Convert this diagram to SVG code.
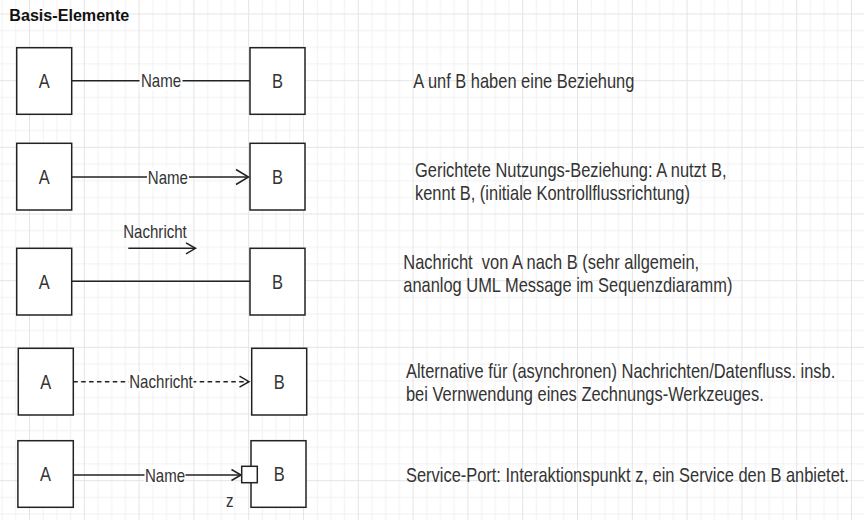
<svg xmlns="http://www.w3.org/2000/svg" width="864" height="520" viewBox="0 0 864 520">
  <defs>
    <pattern id="grid" patternUnits="userSpaceOnUse" x="29" y="13.5" width="54.8" height="66.67">
      <g stroke="#f1f1f1" stroke-width="1">
        <line x1="14.2" y1="0" x2="14.2" y2="66.67"/>
        <line x1="27.9" y1="0" x2="27.9" y2="66.67"/>
        <line x1="41.6" y1="0" x2="41.6" y2="66.67"/>
        <line x1="0" y1="17.17" x2="54.8" y2="17.17"/>
        <line x1="0" y1="33.83" x2="54.8" y2="33.83"/>
        <line x1="0" y1="50.5" x2="54.8" y2="50.5"/>
      </g>
      <g stroke="#e4e4e4" stroke-width="1">
        <line x1="0.5" y1="0" x2="0.5" y2="66.67"/>
        <line x1="0" y1="0.5" x2="54.8" y2="0.5"/>
      </g>
    </pattern>
    <marker id="arrBig" markerUnits="userSpaceOnUse" viewBox="-15 -9 17 18" markerWidth="17" markerHeight="18" refX="0" refY="0" orient="auto">
      <path d="M-12.5,-7.5 L0,0 L-12.5,7.5" fill="none" stroke="#222" stroke-width="1.5" stroke-dasharray="none"/>
    </marker>
    <marker id="arrSmall" markerUnits="userSpaceOnUse" viewBox="-12 -8 14 16" markerWidth="14" markerHeight="16" refX="0" refY="0" orient="auto">
      <path d="M-9.5,-5.5 L0,0 L-9.5,5.5" fill="none" stroke="#222" stroke-width="1.5" stroke-dasharray="none"/>
    </marker>
    <style>
      .box { fill: #ffffff; stroke: #222222; stroke-width: 1.5; }
      .port { fill: #ffffff; stroke: #222222; stroke-width: 1.5; }
      .edge { fill: none; stroke: #222222; stroke-width: 1.4; }
      .dash { stroke-dasharray: 4.5 3.4; }
      .lblbg { fill: #ffffff; }
      .t { font-family: "Liberation Sans", Arial, sans-serif; fill: #333333; }
      .node { font-size: 20px; text-anchor: middle; }
      .body { font-size: 20px; }
      .lbl { font-size: 18.3px; text-anchor: middle; }
      .title { font-family: "Liberation Sans", Arial, sans-serif; font-size: 16px; font-weight: bold; fill: #111111; }
    </style>
  </defs>

  <rect x="0" y="0" width="864" height="520" fill="#ffffff"/>
  <rect x="0" y="0" width="864" height="520" fill="url(#grid)"/>

  <text class="title" x="9.3" y="20.7" textLength="120" lengthAdjust="spacingAndGlyphs">Basis-Elemente</text>

  <!-- connectors -->
  <g id="connectors">
    <line class="edge" x1="71.7" y1="80.7" x2="250" y2="80.7"/>
    <line class="edge" x1="71.7" y1="177" x2="248.5" y2="177" marker-end="url(#arrBig)"/>
    <line class="edge" x1="128.3" y1="248.3" x2="195.5" y2="248.3" marker-end="url(#arrSmall)"/>
    <line class="edge" x1="71.7" y1="281.3" x2="250" y2="281.3"/>
    <line class="edge dash" x1="73.3" y1="381.7" x2="249" y2="381.7" marker-end="url(#arrSmall)"/>
    <line class="edge" x1="73.3" y1="475" x2="241" y2="475" marker-end="url(#arrSmall)"/>
    <!-- label backgrounds -->
    <rect class="lblbg" x="139.5" y="71" width="43" height="19"/>
    <rect class="lblbg" x="147" y="167.5" width="42" height="19"/>
    <rect class="lblbg" x="128.5" y="372" width="65" height="19"/>
    <rect class="lblbg" x="144.5" y="465.5" width="41" height="19"/>
    <g class="t lbl" transform="scale(0.822,1)">
      <text x="195.9" y="87.3">Name</text>
      <text x="204.2" y="183.6">Name</text>
      <text x="188.6" y="238.3">Nachricht</text>
      <text x="195.9" y="388.3">Nachricht</text>
      <text x="200.7" y="481.6">Name</text>
    </g>
  </g>

  <!-- row 1 -->
  <g id="r1-A"><rect class="box" x="16.7" y="47.7" width="55" height="66.6"/><text class="t node" transform="scale(0.822,1)" x="53.8" y="88.2">A</text></g>
  <g id="r1-B"><rect class="box" x="250" y="47.7" width="55" height="66.6"/><text class="t node" transform="scale(0.822,1)" x="337.6" y="88.2">B</text></g>
  <g id="r1-desc"><text class="t body" transform="scale(0.822,1)" x="502.8" y="87.7">A unf B haben eine Beziehung</text></g>

  <!-- row 2 -->
  <g id="r2-A"><rect class="box" x="16.7" y="143.3" width="55" height="66.7"/><text class="t node" transform="scale(0.822,1)" x="53.8" y="184">A</text></g>
  <g id="r2-B"><rect class="box" x="250" y="143.3" width="55" height="66.7"/><text class="t node" transform="scale(0.822,1)" x="337.6" y="184">B</text></g>
  <g id="r2-desc" class="t body" transform="scale(0.822,1)">
    <text x="504.9" y="176.7">Gerichtete Nutzungs-Beziehung: A nutzt B,</text>
    <text x="504.9" y="200">kennt B, (initiale Kontrollflussrichtung)</text>
  </g>

  <!-- row 3 -->
  <g id="r3-A"><rect class="box" x="16.7" y="248.3" width="55" height="66.7"/><text class="t node" transform="scale(0.822,1)" x="53.8" y="288.9">A</text></g>
  <g id="r3-B"><rect class="box" x="250" y="248.3" width="55" height="66.7"/><text class="t node" transform="scale(0.822,1)" x="337.6" y="288.9">B</text></g>
  <g id="r3-desc" class="t body" transform="scale(0.822,1)">
    <text x="490.6" y="269" xml:space="preserve">Nachricht  von A nach B (sehr allgemein,</text>
    <text x="490.6" y="291.7">ananlog UML Message im Sequenzdiaramm)</text>
  </g>

  <!-- row 4 -->
  <g id="r4-A"><rect class="box" x="18.3" y="348.3" width="55" height="66.7"/><text class="t node" transform="scale(0.822,1)" x="55.8" y="388.9">A</text></g>
  <g id="r4-B"><rect class="box" x="251.7" y="348.3" width="55" height="66.7"/><text class="t node" transform="scale(0.822,1)" x="339.7" y="388.9">B</text></g>
  <g id="r4-desc" class="t body" transform="scale(0.822,1)">
    <text x="493.9" y="377.7">Alternative für (asynchronen) Nachrichten/Datenfluss. insb.</text>
    <text x="493.9" y="400.7">bei Vernwendung eines Zechnungs-Werkzeuges.</text>
  </g>

  <!-- row 5 -->
  <g id="r5-A"><rect class="box" x="17.9" y="440.7" width="55.4" height="66.6"/><text class="t node" transform="scale(0.822,1)" x="55.4" y="481.2">A</text></g>
  <g id="r5-B"><rect class="box" x="251" y="440.7" width="55" height="66.6"/><text class="t node" transform="scale(0.822,1)" x="339.7" y="481.2">B</text></g>
  <g id="r5-port"><rect class="port" x="241.7" y="466.3" width="15.6" height="16.4"/><text class="t" font-size="18.3" transform="scale(0.822,1)" x="274.9" y="507.3">z</text></g>
  <g id="r5-desc"><text class="t body" transform="scale(0.822,1)" x="493.9" y="481.7">Service-Port: Interaktionspunkt z, ein Service den B anbietet.</text></g>
</svg>
